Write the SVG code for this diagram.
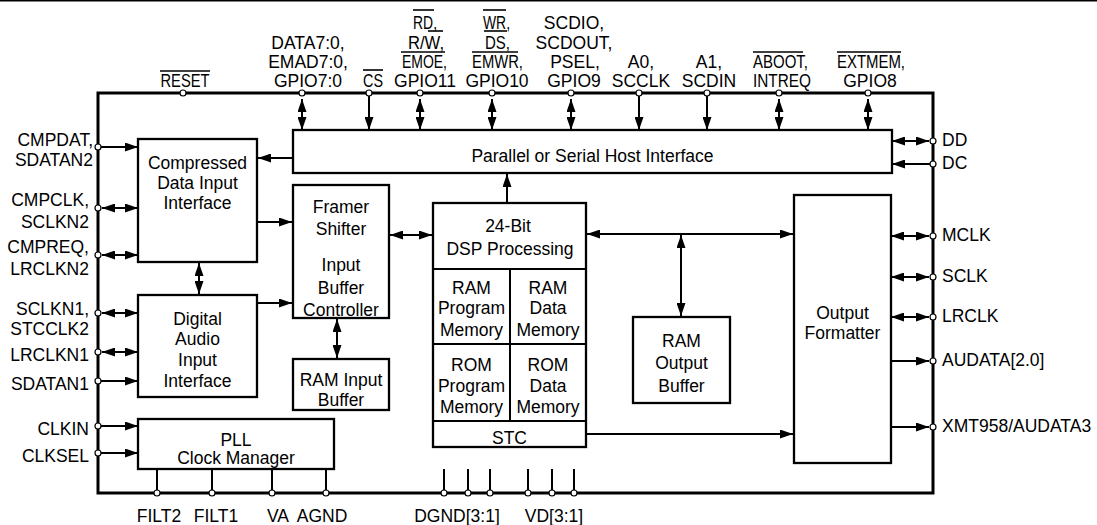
<svg xmlns="http://www.w3.org/2000/svg" width="1097" height="525" viewBox="0 0 1097 525">
<style>
.t{font-family:"Liberation Sans",Arial,Helvetica,sans-serif;font-size:17.5px;fill:#000}
.m{text-anchor:middle}
.e{text-anchor:end}
.box{fill:#fff;stroke:#000;stroke-width:2.3}
.c{stroke:#000;stroke-width:2;fill:none}
.pin{fill:#fff;stroke:#000;stroke-width:1.2}
.ol{stroke:#000;stroke-width:1.6}
</style>
<defs>
<marker id="ah" markerUnits="userSpaceOnUse" markerWidth="13" markerHeight="9" refX="13" refY="4.5" orient="auto-start-reverse" viewBox="0 0 13 9">
<path d="M0,0 L13,4.5 L0,9 Z" fill="#000"/>
</marker>
</defs>
<rect width="1097" height="525" fill="#fff"/>
<line x1="0" y1="0.8" x2="1097" y2="0.8" stroke="#000" stroke-width="1.6"/>

<g id="chip">
<rect x="98" y="93" width="835" height="400" fill="none" stroke="#000" stroke-width="3"/>
</g>

<g id="host-interface">
<rect class="box" x="293" y="130" width="599" height="43"/>
<text class="t m" x="592.5" y="162">Parallel or Serial Host Interface</text>
</g>
<g id="compressed-input">
<rect class="box" x="138" y="139" width="119" height="123"/>
<text class="t m" x="197.5" y="169">Compressed</text>
<text class="t m" x="197.5" y="189">Data Input</text>
<text class="t m" x="197.5" y="209">Interface</text>
</g>
<g id="digital-audio-input">
<rect class="box" x="138" y="295" width="119" height="102"/>
<text class="t m" x="197.5" y="325">Digital</text>
<text class="t m" x="197.5" y="345">Audio</text>
<text class="t m" x="197.5" y="366">Input</text>
<text class="t m" x="197.5" y="387">Interface</text>
</g>
<g id="framer">
<rect class="box" x="293" y="185" width="96" height="133"/>
<text class="t m" x="341" y="213">Framer</text>
<text class="t m" x="341" y="235">Shifter</text>
<text class="t m" x="341" y="271">Input</text>
<text class="t m" x="341" y="294">Buffer</text>
<text class="t m" x="341" y="316">Controller</text>
</g>
<g id="ram-input-buffer">
<rect class="box" x="293" y="359" width="96" height="51"/>
<text class="t m" x="341" y="386">RAM Input</text>
<text class="t m" x="341" y="406">Buffer</text>
</g>
<g id="dsp">
<rect class="box" x="433" y="203" width="153" height="244"/>
<line class="c" x1="433" y1="269" x2="586" y2="269" stroke-width="2.3"/>
<line class="c" x1="433" y1="344" x2="586" y2="344" stroke-width="2.3"/>
<line class="c" x1="433" y1="421" x2="586" y2="421" stroke-width="2.3"/>
<line class="c" x1="510" y1="269" x2="510" y2="421" stroke-width="2.3"/>
<text class="t m" x="508" y="232">24-Bit</text>
<text class="t m" x="510" y="255">DSP Processing</text>
<text class="t m" x="471.5" y="294">RAM</text>
<text class="t m" x="471.5" y="314">Program</text>
<text class="t m" x="471.5" y="336">Memory</text>
<text class="t m" x="548" y="294">RAM</text>
<text class="t m" x="548" y="314">Data</text>
<text class="t m" x="548" y="336">Memory</text>
<text class="t m" x="471.5" y="371">ROM</text>
<text class="t m" x="471.5" y="392">Program</text>
<text class="t m" x="471.5" y="413">Memory</text>
<text class="t m" x="548" y="371">ROM</text>
<text class="t m" x="548" y="392">Data</text>
<text class="t m" x="548" y="413">Memory</text>
<text class="t m" x="509.5" y="444">STC</text>
</g>
<g id="ram-output-buffer">
<rect class="box" x="633" y="317" width="97" height="86"/>
<text class="t m" x="681.5" y="347">RAM</text>
<text class="t m" x="681.5" y="369">Output</text>
<text class="t m" x="681.5" y="392">Buffer</text>
</g>
<g id="output-formatter">
<rect class="box" x="794" y="195" width="97" height="268"/>
<text class="t m" x="842.5" y="319">Output</text>
<text class="t m" x="842.5" y="339">Formatter</text>
</g>
<g id="pll">
<rect class="box" x="138" y="419" width="196" height="50"/>
<text class="t m" x="236" y="446">PLL</text>
<text class="t m" x="236" y="464">Clock Manager</text>
</g>

<g id="connectors">
<line class="c" x1="302" y1="99" x2="302" y2="130" marker-start="url(#ah)" marker-end="url(#ah)"/>
<line class="c" x1="369" y1="96" x2="369" y2="130" marker-end="url(#ah)"/>
<line class="c" x1="420" y1="99" x2="420" y2="130" marker-start="url(#ah)" marker-end="url(#ah)"/>
<line class="c" x1="492" y1="99" x2="492" y2="130" marker-start="url(#ah)" marker-end="url(#ah)"/>
<line class="c" x1="571" y1="99" x2="571" y2="130" marker-start="url(#ah)" marker-end="url(#ah)"/>
<line class="c" x1="639" y1="96" x2="639" y2="130" marker-end="url(#ah)"/>
<line class="c" x1="707" y1="96" x2="707" y2="130" marker-end="url(#ah)"/>
<line class="c" x1="779" y1="99" x2="779" y2="130" marker-start="url(#ah)" marker-end="url(#ah)"/>
<line class="c" x1="868" y1="99" x2="868" y2="130" marker-start="url(#ah)" marker-end="url(#ah)"/>
<line class="c" x1="101" y1="147" x2="138" y2="147" marker-end="url(#ah)"/>
<line class="c" x1="102" y1="208" x2="138" y2="208" marker-start="url(#ah)" marker-end="url(#ah)"/>
<line class="c" x1="102" y1="255" x2="138" y2="255" marker-start="url(#ah)" marker-end="url(#ah)"/>
<line class="c" x1="102" y1="313" x2="138" y2="313" marker-start="url(#ah)" marker-end="url(#ah)"/>
<line class="c" x1="102" y1="352" x2="138" y2="352" marker-start="url(#ah)" marker-end="url(#ah)"/>
<line class="c" x1="101" y1="381" x2="138" y2="381" marker-end="url(#ah)"/>
<line class="c" x1="101" y1="426" x2="138" y2="426" marker-end="url(#ah)"/>
<line class="c" x1="101" y1="453" x2="138" y2="453" marker-end="url(#ah)"/>
<line class="c" x1="892" y1="141" x2="929" y2="141" marker-start="url(#ah)" marker-end="url(#ah)"/>
<line class="c" x1="930" y1="164" x2="892" y2="164" marker-end="url(#ah)"/>
<line class="c" x1="891" y1="236" x2="929" y2="236" marker-start="url(#ah)" marker-end="url(#ah)"/>
<line class="c" x1="891" y1="277" x2="929" y2="277" marker-start="url(#ah)" marker-end="url(#ah)"/>
<line class="c" x1="891" y1="317" x2="929" y2="317" marker-start="url(#ah)" marker-end="url(#ah)"/>
<line class="c" x1="891" y1="361" x2="929" y2="361" marker-end="url(#ah)"/>
<line class="c" x1="891" y1="427" x2="929" y2="427" marker-end="url(#ah)"/>
<line class="c" x1="293" y1="158" x2="258" y2="158" marker-end="url(#ah)"/>
<line class="c" x1="257" y1="222" x2="292" y2="222" marker-end="url(#ah)"/>
<line class="c" x1="257" y1="303" x2="292" y2="303" marker-end="url(#ah)"/>
<line class="c" x1="199" y1="263" x2="199" y2="294" marker-start="url(#ah)" marker-end="url(#ah)"/>
<line class="c" x1="337" y1="319" x2="337" y2="358" marker-start="url(#ah)" marker-end="url(#ah)"/>
<line class="c" x1="390" y1="235" x2="432" y2="235" marker-start="url(#ah)" marker-end="url(#ah)"/>
<line class="c" x1="507" y1="203" x2="507" y2="174" marker-end="url(#ah)"/>
<line class="c" x1="587" y1="234" x2="793" y2="234" marker-start="url(#ah)" marker-end="url(#ah)"/>
<line class="c" x1="681" y1="235" x2="681" y2="316" marker-start="url(#ah)" marker-end="url(#ah)"/>
<line class="c" x1="586" y1="434" x2="793" y2="434" marker-end="url(#ah)"/>
<line class="c" x1="157" y1="469" x2="157" y2="493"/>
<line class="c" x1="212" y1="469" x2="212" y2="493"/>
<line class="c" x1="272" y1="469" x2="272" y2="493"/>
<line class="c" x1="326" y1="469" x2="326" y2="493"/>
<line class="c" x1="444" y1="469" x2="444" y2="493"/>
<line class="c" x1="468" y1="469" x2="468" y2="493"/>
<line class="c" x1="490" y1="469" x2="490" y2="493"/>
<line class="c" x1="528" y1="469" x2="528" y2="493"/>
<line class="c" x1="552" y1="469" x2="552" y2="493"/>
<line class="c" x1="574" y1="469" x2="574" y2="493"/>
</g>

<g id="pins">
<circle class="pin" cx="183" cy="93" r="3"/>
<circle class="pin" cx="302" cy="93" r="3"/>
<circle class="pin" cx="369" cy="93" r="3"/>
<circle class="pin" cx="420" cy="93" r="3"/>
<circle class="pin" cx="492" cy="93" r="3"/>
<circle class="pin" cx="571" cy="93" r="3"/>
<circle class="pin" cx="639" cy="93" r="3"/>
<circle class="pin" cx="707" cy="93" r="3"/>
<circle class="pin" cx="779" cy="93" r="3"/>
<circle class="pin" cx="868" cy="93" r="3"/>
<circle class="pin" cx="98" cy="147" r="3"/>
<circle class="pin" cx="98" cy="208" r="3"/>
<circle class="pin" cx="98" cy="255" r="3"/>
<circle class="pin" cx="98" cy="313" r="3"/>
<circle class="pin" cx="98" cy="352" r="3"/>
<circle class="pin" cx="98" cy="381" r="3"/>
<circle class="pin" cx="98" cy="426" r="3"/>
<circle class="pin" cx="98" cy="453" r="3"/>
<circle class="pin" cx="933" cy="141" r="3"/>
<circle class="pin" cx="933" cy="164" r="3"/>
<circle class="pin" cx="933" cy="236" r="3"/>
<circle class="pin" cx="933" cy="277" r="3"/>
<circle class="pin" cx="933" cy="317" r="3"/>
<circle class="pin" cx="933" cy="361" r="3"/>
<circle class="pin" cx="933" cy="427" r="3"/>
<circle class="pin" cx="157" cy="493" r="3"/>
<circle class="pin" cx="212" cy="493" r="3"/>
<circle class="pin" cx="272" cy="493" r="3"/>
<circle class="pin" cx="326" cy="493" r="3"/>
<circle class="pin" cx="444" cy="493" r="3"/>
<circle class="pin" cx="468" cy="493" r="3"/>
<circle class="pin" cx="490" cy="493" r="3"/>
<circle class="pin" cx="528" cy="493" r="3"/>
<circle class="pin" cx="552" cy="493" r="3"/>
<circle class="pin" cx="574" cy="493" r="3"/>
</g>

<g id="pin-labels">
<text class="t m" x="185" y="87" textLength="49" lengthAdjust="spacingAndGlyphs">RESET</text>
<line class="ol" x1="160" y1="71" x2="210" y2="71"/>
<text class="t m" x="308" y="49">DATA7:0,</text>
<text class="t m" x="308" y="68">EMAD7:0,</text>
<text class="t m" x="308" y="87">GPIO7:0</text>
<text class="t m" x="373" y="87" textLength="20" lengthAdjust="spacingAndGlyphs">CS</text>
<line class="ol" x1="363" y1="70" x2="383" y2="70"/>
<text class="t m" x="425" y="29" textLength="24" lengthAdjust="spacingAndGlyphs">RD,</text>
<line class="ol" x1="413" y1="10" x2="434" y2="10"/>
<text class="t m" x="426" y="48.5" textLength="36" lengthAdjust="spacingAndGlyphs">R/W,</text>
<line class="ol" x1="428" y1="31" x2="443" y2="31"/>
<text class="t m" x="424.5" y="68" textLength="45" lengthAdjust="spacingAndGlyphs">EMOE,</text>
<line class="ol" x1="401" y1="52" x2="445" y2="52"/>
<text class="t m" x="425" y="87">GPIO11</text>
<text class="t m" x="496.5" y="29" textLength="27" lengthAdjust="spacingAndGlyphs">WR,</text>
<line class="ol" x1="483" y1="10" x2="506" y2="10"/>
<text class="t m" x="497.5" y="48.5" textLength="25" lengthAdjust="spacingAndGlyphs">DS,</text>
<line class="ol" x1="484" y1="31" x2="507" y2="31"/>
<text class="t m" x="497.5" y="68" textLength="51" lengthAdjust="spacingAndGlyphs">EMWR,</text>
<line class="ol" x1="472" y1="52" x2="518" y2="52"/>
<text class="t m" x="497" y="87">GPIO10</text>
<text class="t m" x="574" y="29">SCDIO,</text>
<text class="t m" x="574" y="48.5">SCDOUT,</text>
<text class="t m" x="575" y="68">PSEL,</text>
<text class="t m" x="574" y="87">GPIO9</text>
<text class="t m" x="641" y="68">A0,</text>
<text class="t m" x="641" y="87">SCCLK</text>
<text class="t m" x="709" y="68">A1,</text>
<text class="t m" x="709" y="87">SCDIN</text>
<text class="t m" x="780.5" y="68" textLength="55" lengthAdjust="spacingAndGlyphs">ABOOT,</text>
<line class="ol" x1="753" y1="52" x2="803" y2="52"/>
<text class="t m" x="782" y="87" textLength="58" lengthAdjust="spacingAndGlyphs">INTREQ</text>
<text class="t m" x="871" y="68" textLength="68" lengthAdjust="spacingAndGlyphs">EXTMEM,</text>
<line class="ol" x1="837" y1="52" x2="901" y2="52"/>
<text class="t m" x="870" y="87">GPIO8</text>
<text class="t e" x="93" y="146">CMPDAT,</text>
<text class="t e" x="93" y="166">SDATAN2</text>
<text class="t e" x="89" y="206">CMPCLK,</text>
<text class="t e" x="89" y="228">SCLKN2</text>
<text class="t e" x="89" y="253">CMPREQ,</text>
<text class="t e" x="89" y="275">LRCLKN2</text>
<text class="t e" x="89" y="315">SCLKN1,</text>
<text class="t e" x="89" y="335">STCCLK2</text>
<text class="t e" x="89" y="361">LRCLKN1</text>
<text class="t e" x="89" y="390">SDATAN1</text>
<text class="t e" x="89" y="435">CLKIN</text>
<text class="t e" x="89" y="462">CLKSEL</text>
<text class="t" x="942" y="146">DD</text>
<text class="t" x="942" y="169">DC</text>
<text class="t" x="942" y="241">MCLK</text>
<text class="t" x="942" y="282">SCLK</text>
<text class="t" x="942" y="322">LRCLK</text>
<text class="t" x="942" y="366">AUDATA[2.0]</text>
<text class="t" x="942" y="432">XMT958/AUDATA3</text>
<text class="t m" x="159" y="522">FILT2</text>
<text class="t m" x="216" y="522">FILT1</text>
<text class="t m" x="278" y="522">VA</text>
<text class="t m" x="322" y="522">AGND</text>
<text class="t m" x="457" y="522">DGND[3:1]</text>
<text class="t m" x="554" y="522">VD[3:1]</text>
</g>
</svg>
